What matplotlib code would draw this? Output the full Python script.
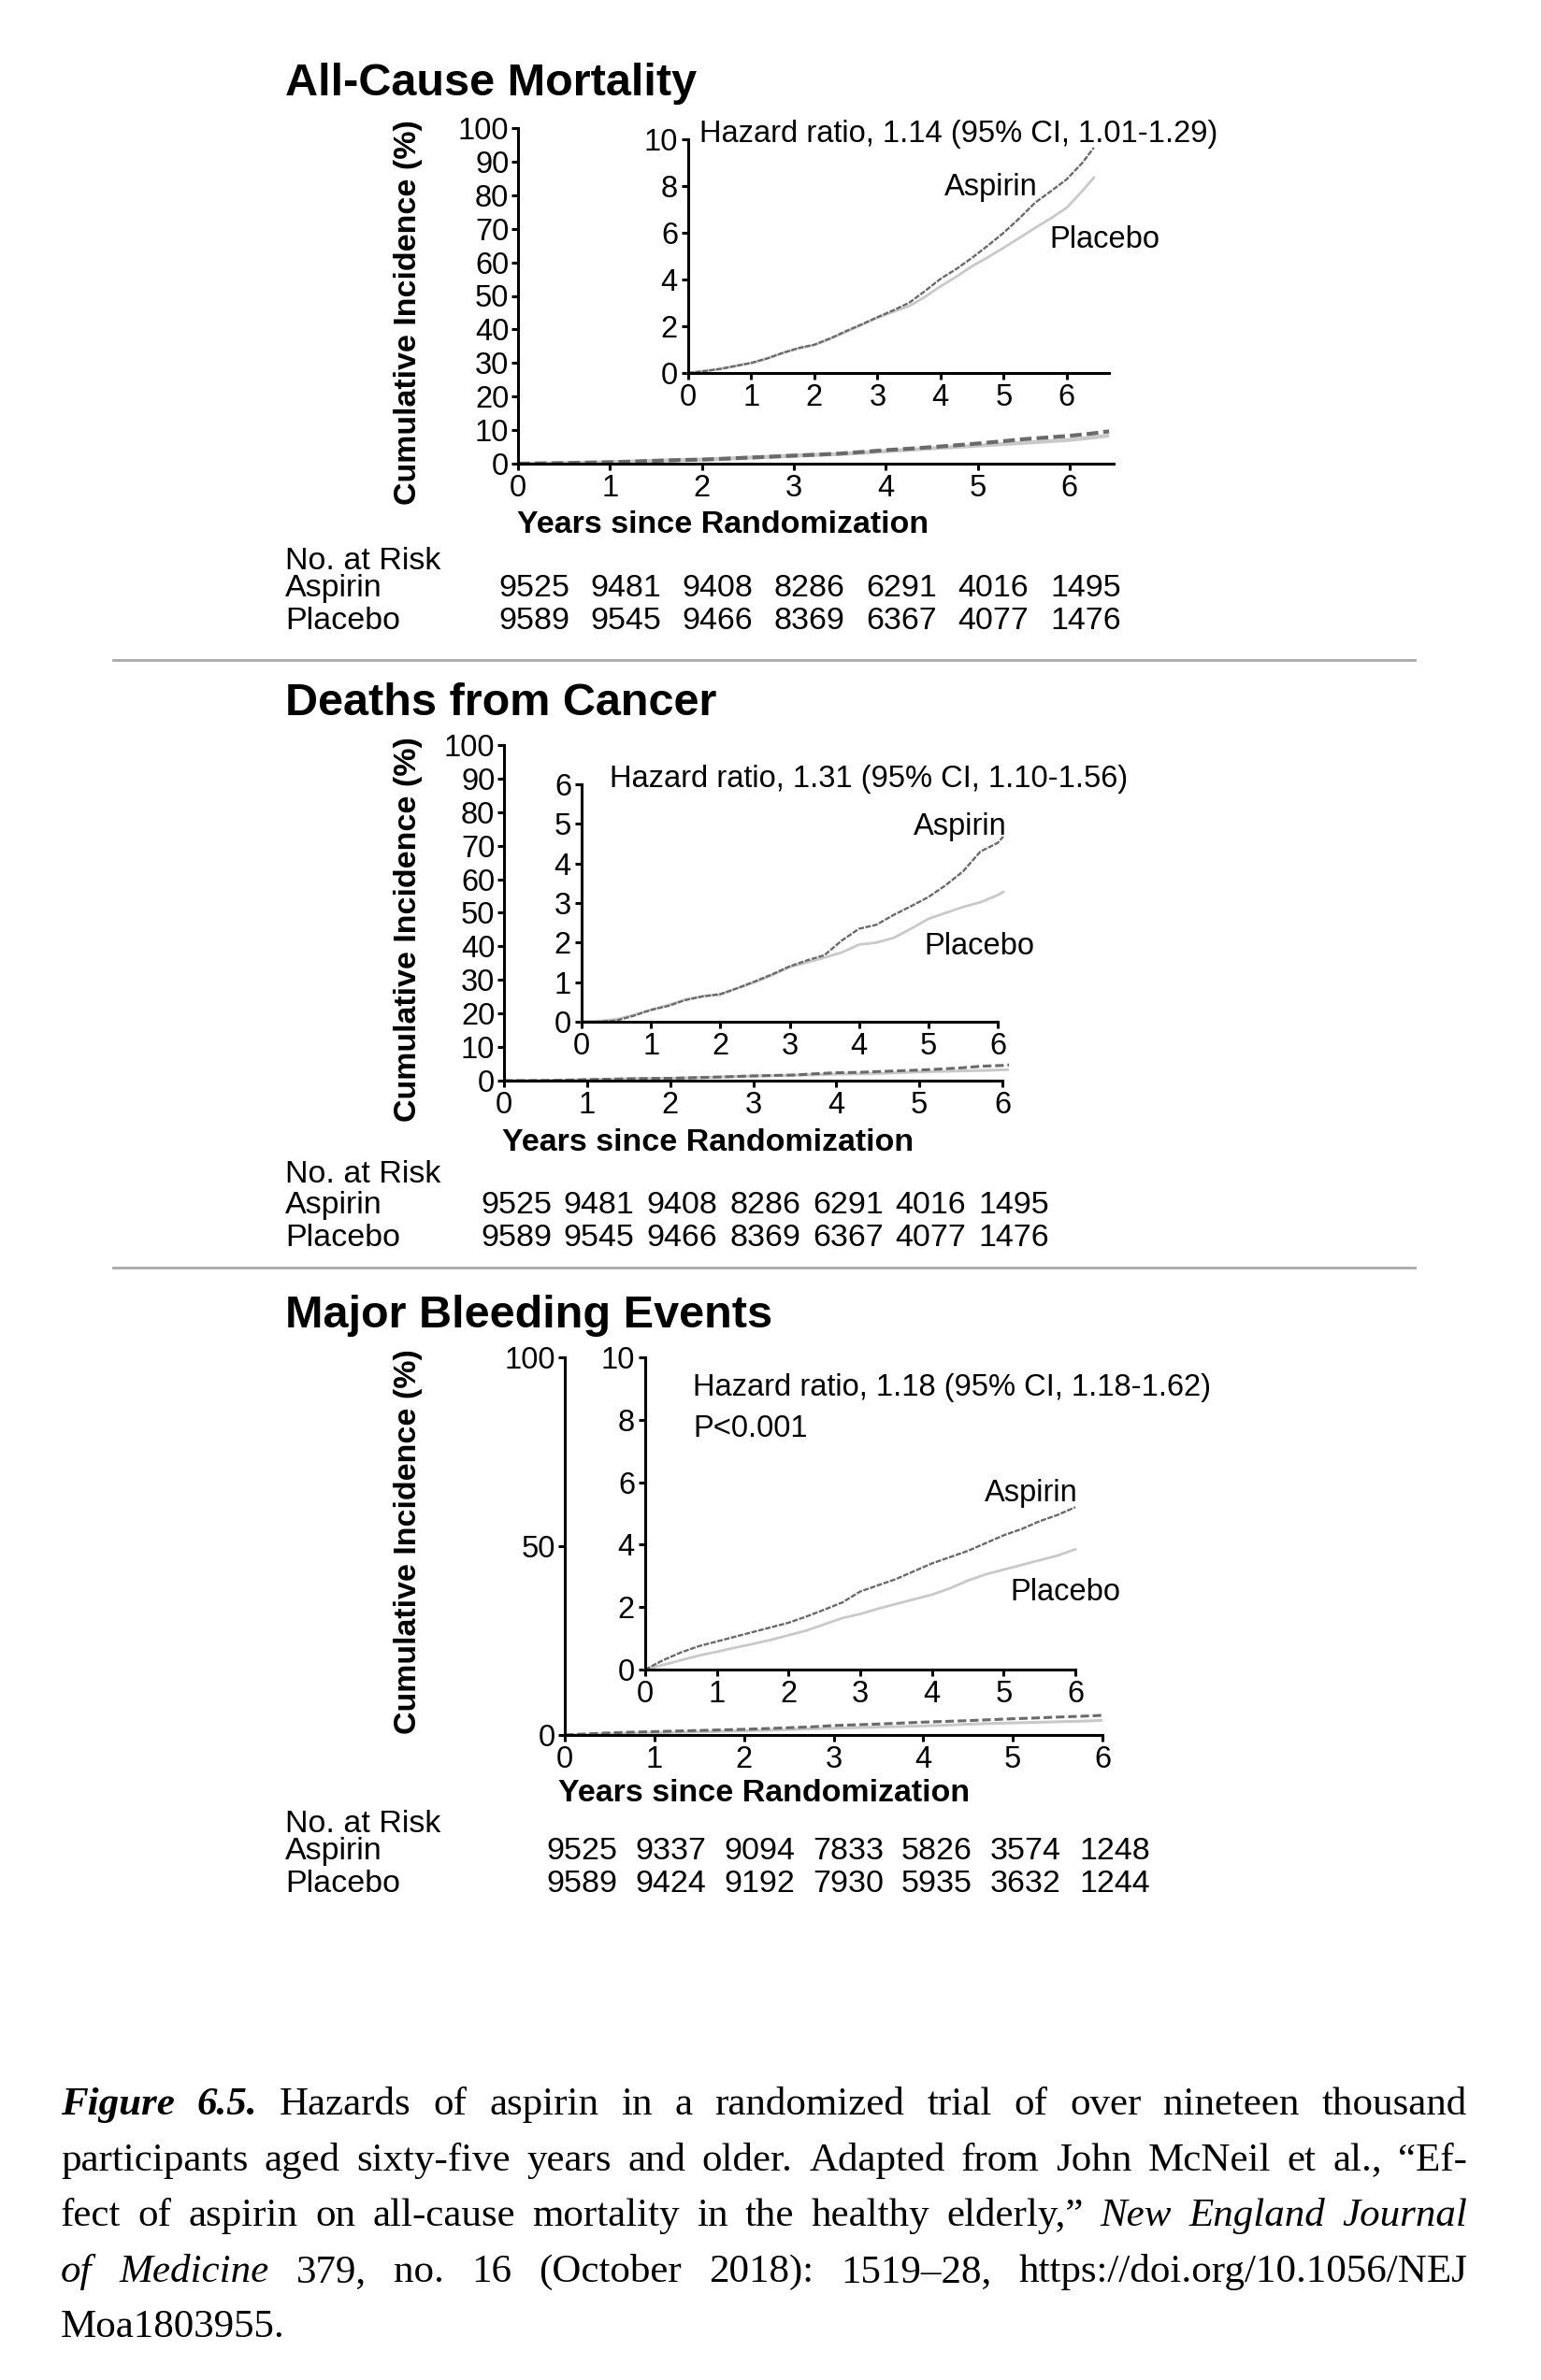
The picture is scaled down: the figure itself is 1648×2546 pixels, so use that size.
import matplotlib
matplotlib.use("Agg")
import matplotlib.pyplot as plt

W, H = 1648, 2546

# --- data (cumulative incidence, %) ---
years_all = [0, 0.25, 0.5, 0.75, 1, 1.25, 1.5, 1.75, 2, 2.25, 2.5, 2.75, 3, 3.25,
             3.5, 3.75, 4, 4.25, 4.5, 4.75, 5, 5.25, 5.5, 5.75, 6, 6.25, 6.43]
aspirin_all = [0.0, 0.08, 0.17, 0.30, 0.43, 0.62, 0.86, 1.07, 1.21, 1.48, 1.79, 2.08, 2.39, 2.68,
               3.00, 3.50, 4.03, 4.45, 4.93, 5.45, 6.00, 6.62, 7.29, 7.78, 8.29, 9.00, 9.64]
placebo_all = [0.0, 0.08, 0.17, 0.30, 0.43, 0.62, 0.86, 1.05, 1.20, 1.46, 1.76, 2.06, 2.36, 2.62,
               2.86, 3.25, 3.71, 4.12, 4.57, 4.95, 5.36, 5.78, 6.21, 6.62, 7.07, 7.80, 8.36]

years_cancer = [0, 0.25, 0.5, 0.75, 1, 1.25, 1.5, 1.75, 2, 2.25, 2.5, 2.75, 3, 3.25,
                3.5, 3.75, 4, 4.25, 4.5, 4.75, 5, 5.25, 5.5, 5.75, 6, 6.08]
aspirin_cancer = [0, 0, 0.03, 0.15, 0.30, 0.40, 0.55, 0.64, 0.70, 0.85, 1.02, 1.20, 1.40, 1.55,
                  1.68, 2.05, 2.35, 2.45, 2.70, 2.92, 3.15, 3.45, 3.80, 4.30, 4.52, 4.68]
placebo_cancer = [0, 0.02, 0.06, 0.17, 0.30, 0.42, 0.56, 0.65, 0.68, 0.85, 1.00, 1.18, 1.38, 1.50,
                  1.62, 1.75, 1.95, 2.00, 2.12, 2.35, 2.60, 2.75, 2.90, 3.02, 3.20, 3.28]

years_bleed = [0, 0.25, 0.5, 0.75, 1, 1.25, 1.5, 1.75, 2, 2.25, 2.5, 2.75, 3, 3.25,
               3.5, 3.75, 4, 4.25, 4.5, 4.75, 5, 5.25, 5.5, 5.75, 6]
aspirin_bleed = [0, 0.30, 0.55, 0.75, 0.90, 1.05, 1.20, 1.35, 1.50, 1.70, 1.92, 2.15, 2.50,
                 2.70, 2.90, 3.15, 3.40, 3.60, 3.80, 4.05, 4.30, 4.50, 4.75, 4.95, 5.20]
placebo_bleed = [0, 0.15, 0.30, 0.45, 0.57, 0.70, 0.82, 0.95, 1.10, 1.25, 1.45, 1.65, 1.78,
                 1.95, 2.10, 2.25, 2.40, 2.60, 2.85, 3.05, 3.20, 3.35, 3.50, 3.65, 3.85]

risk_aspirin_all = [9525, 9481, 9408, 8286, 6291, 4016, 1495]
risk_placebo_all = [9589, 9545, 9466, 8369, 6367, 4077, 1476]
risk_aspirin_cancer = [9525, 9481, 9408, 8286, 6291, 4016, 1495]
risk_placebo_cancer = [9589, 9545, 9466, 8369, 6367, 4077, 1476]
risk_aspirin_bleed = [9525, 9337, 9094, 7833, 5826, 3574, 1248]
risk_placebo_bleed = [9589, 9424, 9192, 7930, 5935, 3632, 1244]

titles = ["All-Cause Mortality", "Deaths from Cancer", "Major Bleeding Events"]
hr_texts = ["Hazard ratio, 1.14 (95% CI, 1.01-1.29)",
            "Hazard ratio, 1.31 (95% CI, 1.10-1.56)",
            "Hazard ratio, 1.18 (95% CI, 1.18-1.62)"]

caption_lines = [
    [("Figure 6.5.", "bi"), ("Hazards of aspirin in a randomized trial of over nineteen thousand", "r")],
    [("participants aged sixty-five years and older. Adapted from John McNeil et al., \u201cEf-", "r")],
    [("fect of aspirin on all-cause mortality in the healthy elderly,\u201d", "r"), ("New England Journal", "i")],
    [("of Medicine", "i"), ("379, no. 16 (October 2018): 1519\u201328, https://doi.org/10.1056/NEJ", "r")],
    [("Moa1803955.", "r")],
]

plt.rcParams["font.family"] = ["Liberation Sans", "DejaVu Sans"]

fig = plt.figure(figsize=(W / 100, H / 100), dpi=100)

DARK = "#6a6a6a"
LIGHT = "#c9c9c9"


def ax_px(left, top, right, bottom):
    return fig.add_axes([left / W, 1 - bottom / H, (right - left) / W, (bottom - top) / H])


def txt(x, y, s, **kw):
    return fig.text(x / W, 1 - y / H, s, **kw)


def style_axes(ax, xmax, ymax, yticks, xbound, ypad):
    ax.set_facecolor("none")
    ax.spines["top"].set_visible(False)
    ax.spines["right"].set_visible(False)
    ax.spines["left"].set_linewidth(2.2)
    ax.spines["bottom"].set_linewidth(2.2)
    ax.set_xlim(0, xmax)
    ax.set_ylim(0, ymax)
    ax.set_xticks(range(7))
    ax.set_yticks(yticks)
    ax.tick_params(width=2.2, length=5, labelsize=23.5, colors="black")
    ax.tick_params(axis="y", pad=ypad)
    ax.tick_params(axis="x", pad=3)
    ax.spines["bottom"].set_bounds(0, xbound)
    ax.spines["left"].set_bounds(0, ymax)


def draw_panel(p):
    # main 0-100 axes
    ax = ax_px(*p["main_box"])
    style_axes(ax, p["main_xmax"], 100, p["main_yticks"], p["main_xbound"], 2)
    ax.plot(p["years"], p["placebo"], color=LIGHT, lw=p["main_lw"], clip_on=False, solid_capstyle="butt")
    ax.plot(p["years"], p["aspirin"], color=DARK, lw=p["main_lw"], ls=(0, (3, 1.3)), clip_on=False)

    # zoomed inset
    ins = ax_px(*p["inset_box"])
    style_axes(ins, p["inset_xmax"], p["inset_ymax"], p["inset_yticks"], p["inset_xbound"], 3)
    ins.plot(p["years"], p["placebo"], color=LIGHT, lw=2.0, clip_on=False)
    ins.plot(p["years"], p["aspirin"], color=DARK, lw=1.7, ls=(0, (2.5, 0.7)), clip_on=False)

    txt(305, p["title_y"], p["title"], fontsize=35, fontweight="bold", va="baseline")
    txt(436, p["ylabel_y"], "Cumulative Incidence (%)", fontsize=24.5, fontweight="bold",
        rotation=90, ha="center", va="center")
    txt(p["xlabel_x"], p["xlabel_y"], "Years since Randomization", fontsize=24.5,
        fontweight="bold", ha="center", va="baseline")

    hx, hy = p["hr_xy"]
    txt(hx, hy, p["hr"], fontsize=23.5, va="baseline")
    if p.get("pval"):
        txt(hx, hy + 44, p["pval"], fontsize=23.5, va="baseline")
    txt(p["asp_xy"][0], p["asp_xy"][1], "Aspirin", fontsize=23.5, ha="center", va="baseline")
    txt(p["pla_xy"][0], p["pla_xy"][1], "Placebo", fontsize=23.5, ha="center", va="baseline")

    # number at risk table
    r0, r1, r2 = p["risk_rows"]
    txt(305, r0, "No. at Risk", fontsize=24.5, va="baseline")
    txt(305, r1, "Aspirin", fontsize=24.5, va="baseline")
    txt(305, r2, "Placebo", fontsize=24.5, va="baseline")
    x0, step = p["risk_x"]
    for k in range(len(p["risk_a"])):
        txt(x0 + k * step, r1, str(p["risk_a"][k]), fontsize=24.5, ha="center", va="baseline")
        txt(x0 + k * step, r2, str(p["risk_p"][k]), fontsize=24.5, ha="center", va="baseline")


panels = [
    dict(title=titles[0], title_y=102, ylabel_y=334, xlabel_x=773, xlabel_y=570,
         main_box=(554, 137, 1191, 496), main_xmax=6.48, main_xbound=6.48,
         main_yticks=range(0, 101, 10), main_lw=3.0,
         inset_box=(736, 149, 1186, 399), inset_xmax=6.67, inset_xbound=6.67,
         inset_ymax=10, inset_yticks=range(0, 11, 2),
         years=years_all, aspirin=aspirin_all, placebo=placebo_all,
         hr=hr_texts[0], hr_xy=(748, 152), asp_xy=(1060, 209), pla_xy=(1181, 265),
         risk_rows=(609, 638, 673), risk_x=(571, 98.3),
         risk_a=risk_aspirin_all, risk_p=risk_placebo_all),
    dict(title=titles[1], title_y=765, ylabel_y=994, xlabel_x=757, xlabel_y=1231,
         main_box=(539, 797, 1072, 1156), main_xmax=6, main_xbound=6,
         main_yticks=range(0, 101, 10), main_lw=2.2,
         inset_box=(622, 839, 1067, 1093), inset_xmax=6, inset_xbound=6,
         inset_ymax=6, inset_yticks=range(0, 7),
         years=years_cancer, aspirin=aspirin_cancer, placebo=placebo_cancer,
         hr=hr_texts[1], hr_xy=(652, 842), asp_xy=(1027, 893), pla_xy=(1047, 1021),
         risk_rows=(1265, 1298, 1333), risk_x=(552, 88.7),
         risk_a=risk_aspirin_cancer, risk_p=risk_placebo_cancer),
    dict(title=titles[2], title_y=1420, ylabel_y=1649, xlabel_x=817, xlabel_y=1927,
         main_box=(604, 1452, 1179, 1856), main_xmax=6, main_xbound=6,
         main_yticks=[0, 50, 100], main_lw=2.2,
         inset_box=(690, 1452, 1150, 1786), inset_xmax=6, inset_xbound=6,
         inset_ymax=10, inset_yticks=range(0, 11, 2),
         years=years_bleed, aspirin=aspirin_bleed, placebo=placebo_bleed,
         hr=hr_texts[2], pval="P<0.001", hr_xy=(741, 1493), asp_xy=(1103, 1606), pla_xy=(1139, 1712),
         risk_rows=(1960, 1989, 2024), risk_x=(622, 95.0),
         risk_a=risk_aspirin_bleed, risk_p=risk_placebo_bleed),
]

for p in panels:
    draw_panel(p)

# grey separators between panels
for ysep in [706, 1356]:
    fig.add_artist(plt.Line2D([121 / W, 1513 / W], [1 - ysep / H, 1 - ysep / H],
                              color="#a8a8a8", lw=2.0))

# justified caption
renderer = fig.canvas.get_renderer()
cap_base = [2262, 2322, 2381, 2441, 2500]
cap_left, cap_right = 65, 1569
for i, line in enumerate(caption_lines):
    items = []
    for chunk, st in line:
        for w in chunk.split(" "):
            t = txt(0, cap_base[i], w, fontsize=31, family=["Liberation Serif", "DejaVu Serif"],
                    style="italic" if "i" in st else "normal",
                    weight="bold" if "b" in st else "normal", va="baseline")
            items.append((t, t.get_window_extent(renderer).width))
    total = sum(wd for _, wd in items)
    if i == len(caption_lines) - 1 or len(items) == 1:
        gap = 10
    else:
        gap = (cap_right - cap_left - total) / (len(items) - 1)
    x = cap_left
    for t, wd in items:
        t.set_x(x / W)
        x += wd + gap

fig.savefig("out.png", dpi=100, facecolor="white")
